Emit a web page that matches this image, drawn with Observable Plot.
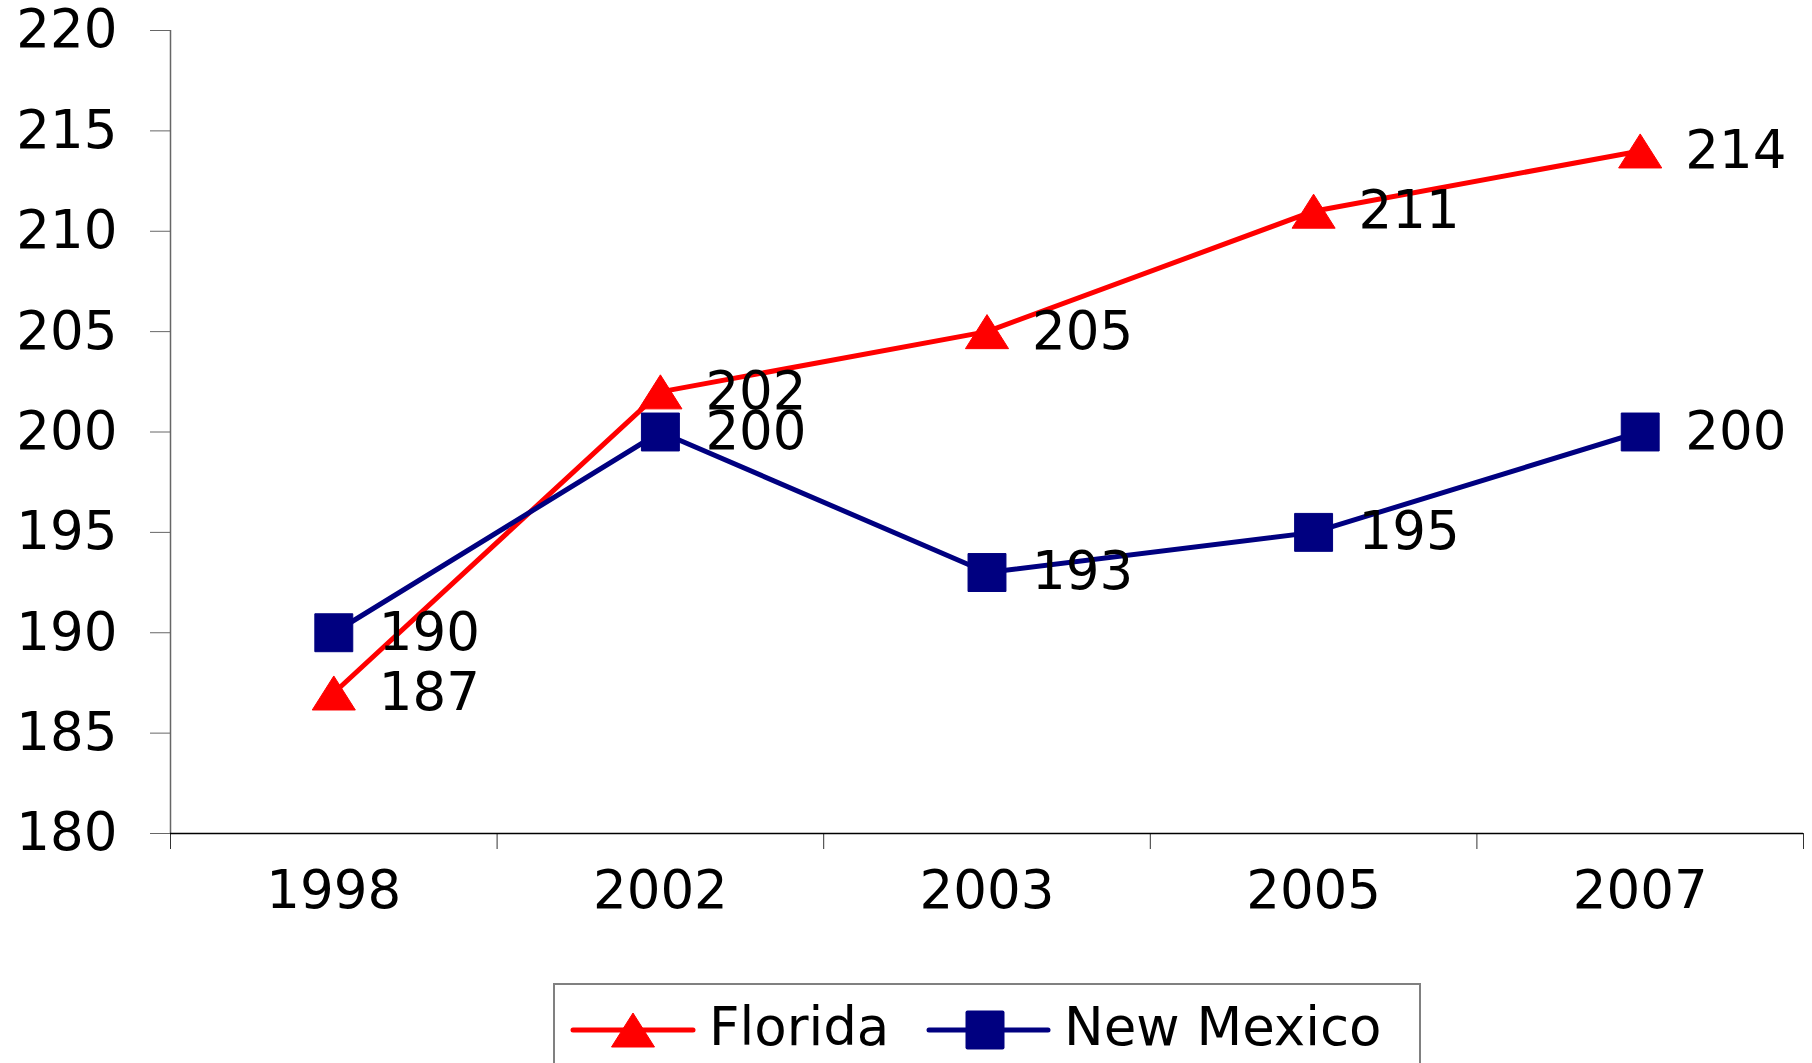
<!DOCTYPE html>
<html>
<head>
<meta charset="utf-8">
<script src="https://cdn.jsdelivr.net/npm/d3@7"></script>
<script src="https://cdn.jsdelivr.net/npm/@observablehq/plot@0.6"></script>
<style>
  html, body { margin: 0; padding: 0; background: white; overflow: hidden; }
  #wrap { position: relative; width: 1812px; height: 1063px; font-family: "DejaVu Sans", sans-serif; }
  #legend { position: absolute; left: 553px; top: 983px; width: 868px; height: 110px;
            border: 2px solid #808080; box-sizing: border-box; background: white; }
  #legend svg { position: absolute; left: -2px; top: -2px; overflow: visible; }
</style>
</head>
<body>
<div id="wrap"><div id="chart"></div><div id="legend"></div></div>
<script>
const years = ["1998", "2002", "2003", "2005", "2007"];
const florida = [187, 202, 205, 211, 214];
const newMexico = [190, 200, 193, 195, 200];
const yTicks = [180, 185, 190, 195, 200, 205, 210, 215, 220];
const seriesNames = ["Florida", "New Mexico"];
const seriesColors = ["#FF0000", "#000080"];

const rows = years.flatMap((yr, i) => [
  {pos: i + 0.5, value: florida[i], series: seriesNames[0]},
  {pos: i + 0.5, value: newMexico[i], series: seriesNames[1]}
]);
const fl = rows.filter(d => d.series === seriesNames[0]);
const nm = rows.filter(d => d.series === seriesNames[1]);

const triangle = {
  draw(ctx, size) {
    const s = Math.sqrt(size);
    const hw = s * 0.76, hh = s * 0.6;
    ctx.moveTo(0, -hh);
    ctx.lineTo(hw, hh);
    ctx.lineTo(-hw, hh);
    ctx.closePath();
  }
};

const font = "DejaVu Sans";
const chart = Plot.plot({
  width: 1812,
  height: 975,
  marginLeft: 170,
  marginRight: 9,
  marginTop: 30,
  marginBottom: 142,
  style: {fontFamily: font, fontSize: "53px", color: "black", background: "white", overflow: "visible"},
  x: {type: "linear", domain: [0, years.length]},
  y: {domain: [180, 220]},
  marks: [
    Plot.ruleX([0], {stroke: "#666", strokeWidth: 1.5}),
    Plot.axisY({ticks: yTicks, tickSize: 20, tickPadding: 33, label: null, stroke: "#666", fill: "black", fontSize: 53}),
    Plot.axisX({ticks: d3.range(years.length + 1), tickSize: 16, tickFormat: () => "", label: null, stroke: "#333"}),
    Plot.ruleY([180], {stroke: "black", strokeWidth: 1.5}),
    Plot.text(years, {x: (d, i) => i + 0.5, frameAnchor: "bottom", dy: 74, text: d => d, textAnchor: "middle", fill: "black", fontSize: 53}),
    Plot.line(fl, {x: "pos", y: "value", stroke: seriesColors[0], strokeWidth: 5}),
    Plot.dot(fl, {x: "pos", y: "value", symbol: triangle, r: 16, fill: seriesColors[0], stroke: seriesColors[0], strokeWidth: 1, strokeLinejoin: "round"}),
    Plot.line(nm, {x: "pos", y: "value", stroke: seriesColors[1], strokeWidth: 5}),
    Plot.dot(nm, {x: "pos", y: "value", symbol: "square", r: 21.4, fill: seriesColors[1], stroke: seriesColors[1], strokeWidth: 1, strokeLinejoin: "round"}),
    Plot.text(rows, {x: "pos", y: "value", text: d => String(d.value), dx: 45, textAnchor: "start", fill: "black", fontSize: 53})
  ]
});
document.getElementById("chart").appendChild(chart);

// Legend below the plot
const lg = d3.select("#legend").append("svg").attr("width", 870).attr("height", 112)
  .style("font-family", font).style("font-size", "53px");
const items = [
  {x0: 20, x1: 140, cx: 80, tx: 156, symbol: "tri"},
  {x0: 376, x1: 495, cx: 432, tx: 511, symbol: "sq"}
];
items.forEach((it, k) => {
  const g = lg.append("g");
  g.append("line").attr("x1", it.x0).attr("x2", it.x1).attr("y1", 47).attr("y2", 47)
    .attr("stroke", seriesColors[k]).attr("stroke-width", 5).attr("stroke-linecap", "round");
  if (it.symbol === "tri") {
    g.append("path").attr("d", `M${it.cx},${30}L${it.cx + 21.5},${64}L${it.cx - 21.5},${64}Z`)
      .attr("fill", seriesColors[k]).attr("stroke", seriesColors[k]).attr("stroke-linejoin", "round");
  } else {
    g.append("rect").attr("x", it.cx - 19.5).attr("y", 47 - 19.5).attr("width", 39).attr("height", 39)
      .attr("fill", seriesColors[k]).attr("rx", 2);
  }
  g.append("text").attr("x", it.tx).attr("y", 62).attr("fill", "black").text(seriesNames[k]);
});
</script>
</body>
</html>
